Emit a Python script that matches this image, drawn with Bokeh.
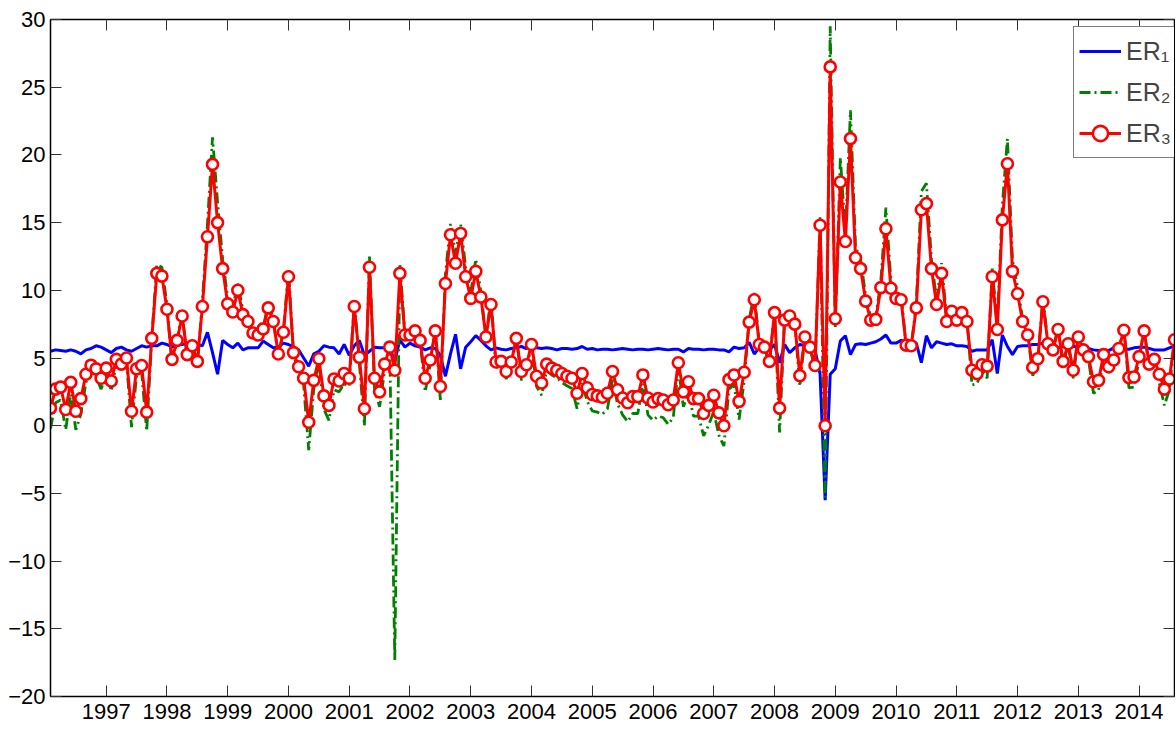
import pandas as pd
from bokeh.plotting import figure
from bokeh.models import Range1d, FixedTicker, LinearAxis, Legend, LegendItem
from bokeh.embed import file_html
from bokeh.resources import INLINE

# ---- data (monthly, Feb 1996 .. Aug 2014) ----
ER1 = [
    5.5, 5.6, 5.55, 5.5, 5.6, 5.5, 5.3, 5.6, 5.7, 5.9, 5.8,
    5.6, 5.4, 5.7, 5.8, 5.6, 5.5, 5.7, 5.9, 5.8, 5.9, 5.9, 6.1,
    6.0, 5.8, 6.0, 6.0, 6.1, 5.8, 6.0, 5.9, 6.9, 5.4, 3.8, 6.3,
    6.0, 5.75, 6.1, 5.6, 5.75, 5.75, 5.75, 6.25, 6.0, 5.75, 5.8, 6.1,
    6.0, 5.8, 5.6, 5.0, 4.4, 5.3, 5.5, 5.9, 5.8, 5.75, 5.3, 6.0,
    5.2, 5.9, 6.3, 5.2, 5.5, 5.8, 5.75, 5.75, 5.8, 4.75, 6.35, 5.8,
    6.1, 5.9, 5.8, 5.6, 5.75, 5.7, 5.2, 3.65, 5.3, 6.75, 4.2, 5.8,
    6.2, 6.65, 6.3, 5.9, 5.6, 5.75, 5.65, 5.6, 5.7, 5.75, 5.85, 5.7,
    6.0, 5.75, 5.7, 5.75, 5.7, 5.6, 5.7, 5.7, 5.65, 5.7, 5.85, 5.65,
    5.7, 5.6, 5.65, 5.65, 5.6, 5.65, 5.7, 5.65, 5.6, 5.65, 5.65, 5.6,
    5.65, 5.7, 5.65, 5.6, 5.65, 5.65, 5.45, 5.7, 5.65, 5.65, 5.6, 5.65,
    5.65, 5.6, 5.6, 5.45, 5.8, 5.7, 5.75, 6.15, 5.3, 5.75, 5.75, 5.6,
    6.0, 4.65, 6.0, 5.4, 5.75, 6.0, 5.9, 5.8, 5.6, 3.8, -5.5, 3.8,
    4.2, 6.25, 6.65, 5.25, 6.0, 6.05, 6.0, 6.1, 6.2, 6.4, 6.7, 6.1,
    6.1, 6.3, 6.1, 6.15, 6.1, 4.65, 6.65, 5.75, 6.2, 6.1, 6.0, 6.05,
    5.9, 5.9, 5.85, 5.5, 5.6, 5.6, 5.6, 6.35, 3.85, 6.7, 5.85, 5.25,
    5.85, 5.9, 5.9, 6.0, 6.0, 6.1, 5.9, 5.6, 5.75, 5.85, 5.9, 5.85,
    5.85, 5.8, 5.7, 5.6, 5.55, 5.6, 5.55, 5.75, 5.85, 5.65, 5.65, 5.75,
    5.8, 5.8, 5.7, 5.6, 5.6, 5.6, 5.75, 5.9,
]

ER2 = [
    -0.2, 1.7, 1.9, -0.3, 2.35, -0.3, 0.85, 3.2, 4.05, 3.6, 2.7,
    3.8, 2.55, 4.6, 4.1, 4.8, -0.1, 3.7, 3.95, -0.4, 6.5, 11.9, 11.7,
    8.95, 4.4, 6.35, 8.35, 4.95, 5.9, 4.3, 9.2, 14.9, 21.3, 16.5, 12.3,
    9.4, 8.75, 10.5, 8.55, 7.95, 7.0, 6.8, 7.25, 9.05, 7.95, 5.1, 7.0,
    11.5, 5.25, 3.9, 3.0, -1.8, 2.7, 4.75, 1.2, 0.4, 2.65, 2.5, 3.1,
    2.9, 9.2, 4.6, 0.0, 12.5, 2.7, 1.4, 4.1, 5.8, -17.3, 12.0, 6.8,
    6.8, 7.15, 6.35, 2.5, 4.5, 7.2, 1.9, 11.2, 14.9, 12.7, 14.9, 11.7,
    9.8, 12.3, 9.9, 6.6, 9.4, 4.3, 4.4, 3.45, 4.35, 6.55, 3.35, 4.1,
    6.0, 2.9, 2.25, 4.1, 3.75, 3.55, 3.2, 2.95, 2.75, 1.25, 3.15, 1.8,
    1.1, 1.0, 0.85, 1.25, 3.4, 1.6, 0.8, 0.3, 0.9, 0.9, 3.1, 0.8,
    0.4, 0.7, 0.6, 0.1, 0.6, 4.35, 1.4, 2.4, 0.7, 0.7, -0.75, 0.05,
    1.05, -0.7, -1.5, 2.7, 3.05, 0.45, 3.3, 7.85, 9.8, 6.05, 5.8, 4.45,
    8.65, -0.5, 8.05, 8.45, 7.7, 2.9, 6.65, 5.8, 4.05, 15.4, -5.3, 29.5,
    7.3, 19.8, 14.2, 23.3, 13.2, 12.3, 9.6, 8.0, 8.05, 10.7, 16.1, 10.7,
    9.8, 9.7, 5.9, 5.8, 9.0, 17.3, 17.9, 12.3, 9.3, 12.0, 7.9, 8.75,
    8.05, 8.65, 7.95, 3.0, 3.1, 4.1, 3.5, 11.6, 7.5, 16.3, 21.2, 12.2,
    10.25, 7.95, 6.8, 3.7, 4.6, 9.55, 6.05, 5.6, 7.3, 4.35, 6.05, 3.5,
    6.65, 5.5, 4.9, 2.4, 2.6, 5.1, 3.9, 4.55, 5.65, 7.25, 2.8, 2.85,
    4.85, 7.15, 4.15, 4.65, 3.15, 1.5, 2.65, 6.4,
]

ER3 = [
    1.3, 2.7, 2.85, 1.2, 3.2, 1.07, 2.0, 3.8, 4.47, 4.2, 3.5,
    4.25, 3.3, 4.9, 4.55, 5.0, 1.07, 4.2, 4.45, 1.0, 6.45, 11.25, 11.05,
    8.6, 4.9, 6.3, 8.1, 5.25, 5.9, 4.75, 8.8, 13.95, 19.3, 15.0, 11.6,
    9.0, 8.4, 10.0, 8.2, 7.7, 6.85, 6.7, 7.15, 8.7, 7.7, 5.3, 6.9,
    11.0, 5.4, 4.35, 3.5, 0.25, 3.35, 4.95, 2.2, 1.5, 3.45, 3.3, 3.85,
    3.5, 8.8, 5.05, 1.25, 11.7, 3.5, 2.5, 4.55, 5.8, 4.1, 11.25, 6.7,
    6.7, 7.0, 6.3, 3.5, 4.85, 7.0, 2.9, 10.5, 14.1, 12.0, 14.2, 11.0,
    9.4, 11.4, 9.5, 6.55, 8.95, 4.7, 4.75, 4.0, 4.7, 6.45, 4.0, 4.5,
    6.0, 3.65, 3.15, 4.55, 4.25, 4.1, 3.85, 3.65, 3.5, 2.4, 3.85, 2.8,
    2.3, 2.2, 2.1, 2.4, 4.0, 2.65, 2.05, 1.7, 2.15, 2.15, 3.75, 2.05,
    1.75, 2.0, 1.9, 1.55, 1.9, 4.65, 2.5, 3.25, 2.0, 2.0, 0.9, 1.5,
    2.25, 0.95, 0.0, 3.4, 3.75, 1.8, 3.95, 7.65, 9.3, 6.0, 5.8, 4.75,
    8.35, 1.3, 7.8, 8.1, 7.5, 3.7, 6.55, 5.8, 4.45, 14.8, 0.0, 26.5,
    7.9, 18.0, 13.6, 21.2, 12.4, 11.6, 9.2, 7.8, 7.85, 10.2, 14.55, 10.15,
    9.4, 9.3, 5.95, 5.9, 8.7, 15.95, 16.4, 11.6, 8.95, 11.25, 7.7, 8.45,
    7.8, 8.35, 7.7, 4.1, 3.85, 4.5, 4.4, 11.0, 7.1, 15.2, 19.35, 11.4,
    9.75, 7.7, 6.7, 4.3, 4.95, 9.15, 6.05, 5.6, 7.1, 4.75, 6.05, 4.1,
    6.55, 5.6, 5.1, 3.25, 3.35, 5.25, 4.35, 4.85, 5.7, 7.05, 3.55, 3.6,
    5.1, 7.0, 4.55, 4.9, 3.8, 2.7, 3.45, 6.35,
]

YEARS = list(range(1997, 2015))
YTICKS = list(range(-20, 31, 5))
LABELS = ["ER\u2081", "ER\u2082", "ER\u2083"]

months = pd.date_range("1996-02-01", periods=len(ER3), freq="MS")
x = list(months.year + (months.month - 1) / 12.0)

FONT = "Liberation Sans"

p = figure(width=1175, height=728, output_backend="svg", toolbar_location=None,
           x_range=Range1d(x[0], x[-1]), y_range=Range1d(-20, 30),
           min_border_left=50, min_border_right=1, min_border_top=19, min_border_bottom=32)
p.xgrid.visible = False
p.ygrid.visible = False
p.outline_line_color = "black"
p.outline_line_width = 1
p.background_fill_color = "white"
p.border_fill_color = "white"

ylabels = {v: (f"\u2212{abs(v)}" if v < 0 else str(v)) for v in YTICKS}
xlabels = {v: str(v) for v in YEARS}

def style_axis(ax, ticks, labels, show):
    ax.ticker = FixedTicker(ticks=ticks)
    ax.major_label_overrides = labels if show else {t: "" for t in ticks}
    ax.major_tick_in = 11
    ax.major_tick_out = 0
    ax.minor_tick_line_color = None
    ax.major_tick_line_color = "#333333"
    ax.major_tick_line_width = 1
    ax.axis_line_color = "black"
    ax.axis_line_width = 1.5
    ax.major_label_text_font = FONT
    ax.major_label_text_font_size = "22px"
    ax.major_label_text_color = "black"
    ax.major_label_standoff = 5 if show else 0

style_axis(p.xaxis[0], YEARS, xlabels, True)
p.xaxis[0].major_label_standoff = 7
style_axis(p.yaxis[0], YTICKS, ylabels, True)

top = LinearAxis()
style_axis(top, YEARS, xlabels, False)
p.add_layout(top, "above")
right = LinearAxis()
style_axis(right, YTICKS, ylabels, False)
p.add_layout(right, "right")

l1 = p.line(x, ER1, line_color="#0000ff", line_width=3)
l2 = p.line(x, ER2, line_color="#008000", line_width=2.8, line_dash="11 4 2 4")
l3 = p.line(x, ER3, line_color="#ff0000", line_width=3)
s3 = p.scatter(x, ER3, marker="circle", size=11, line_color="#ff0000", line_width=2.6,
               fill_color="white")

legend = Legend(items=[LegendItem(label=LABELS[0], renderers=[l1]),
                       LegendItem(label=LABELS[1], renderers=[l2]),
                       LegendItem(label=LABELS[2], renderers=[l3, s3])],
                location=(1023, 538))
legend.label_text_font = FONT
legend.label_text_font_size = "25px"
legend.glyph_width = 42
legend.glyph_height = 38
legend.label_height = 38
legend.label_width = 60
legend.spacing = 3
legend.padding = 5
legend.margin = 0
legend.label_standoff = 5
legend.border_line_color = "black"
legend.border_line_width = 1.5
legend.background_fill_color = "white"
legend.background_fill_alpha = 1.0
p.add_layout(legend)

open("out.html", "w").write(file_html(p, INLINE))
